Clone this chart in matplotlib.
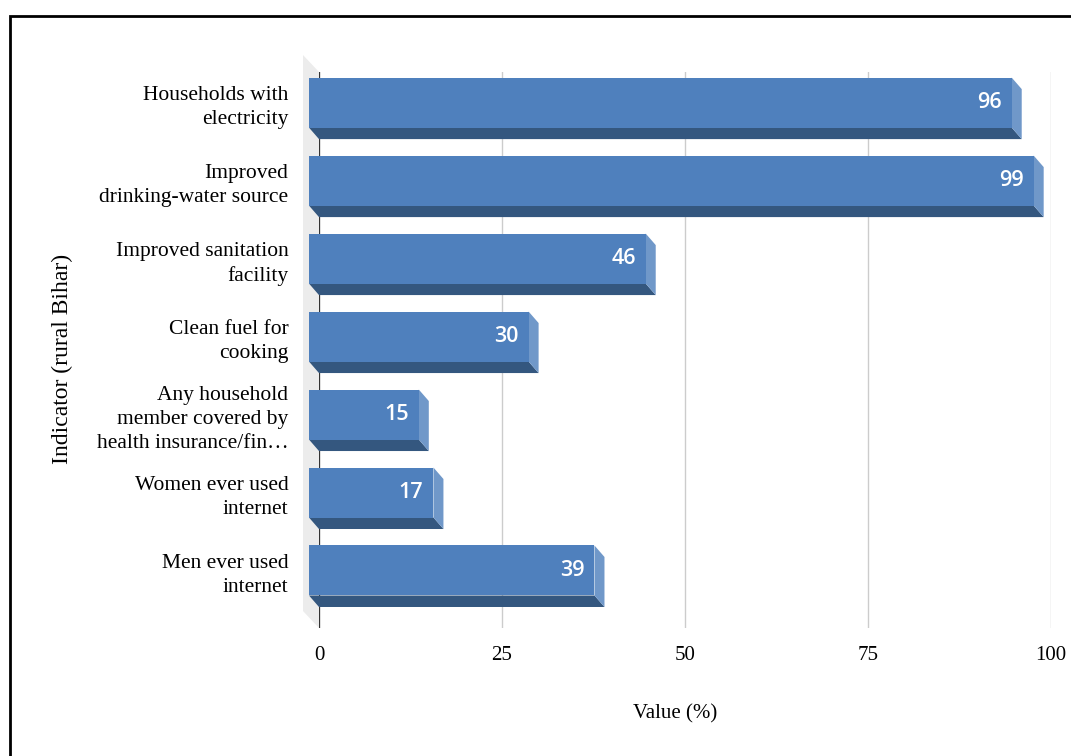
"""Rural Bihar household indicators - 3D style horizontal bars"""

import matplotlib
matplotlib.use('Agg')
from matplotlib import pyplot as plt
from matplotlib.patches import Polygon, Rectangle

# Data
categories = [
    'Households with\nelectricity',
    'Improved\ndrinking-water source',
    'Improved sanitation\nfacility',
    'Clean fuel for\ncooking',
    'Any household\nmember covered by\nhealth insurance/fin\u2026',
    'Women ever used\ninternet',
    'Men ever used\ninternet',
]
values = [96, 99, 46, 30, 15, 17, 39]
x_ticks = [0, 25, 50, 75, 100]

front_color = '#4f80bd'
bottom_color = '#34577f'
side_color = '#7098c9'
serif = 'Liberation Serif'

fig = plt.figure(figsize=(10.71, 7.56), dpi=100)
W, H = 1071, 756
ax = fig.add_axes([319 / W, 1 - 628 / H, 732 / W, 556 / H])
ax.set_xlim(0, 100)
ax.set_ylim(6.59, -0.54)

# pixel offsets of the fake depth, converted to data units
px_x = (ax.transData.transform((1, 0))[0] - ax.transData.transform((0, 0))[0])
px_y = abs(ax.transData.transform((0, 1))[1] - ax.transData.transform((0, 0))[1])
ox, oy = 10 / px_x, 11.5 / px_y     # bars
wx, wy = 16 / px_x, 17 / px_y       # back wall
h = 50 / px_y

# back wall on the left
y0, y1 = -0.54, 6.59
ax.add_patch(Polygon([(-wx, y0 - wy), (0, y0), (0, y1), (-wx, y1 - wy)],
                     closed=True, fc='#ececec', ec='none', zorder=0, clip_on=False))

ax.grid(axis='x', color='#cccccc', lw=1)
ax.axvline(0, color='#333333', lw=1.6, zorder=1.8)

for i, v in enumerate(values):
    top, bot = i - h / 2, i + h / 2
    # bottom face
    ax.add_patch(Polygon([(-ox, bot - oy), (v - ox, bot - oy), (v, bot), (0, bot)],
                         closed=True, fc=bottom_color, ec='none', zorder=2, clip_on=False))
    # right side face
    ax.add_patch(Polygon([(v - ox, top - oy), (v, top), (v, bot), (v - ox, bot - oy)],
                         closed=True, fc=side_color, ec='none', zorder=2, clip_on=False))
    # front face
    ax.add_patch(Rectangle((-ox, top - oy), v, h, fc=front_color, ec='none',
                           zorder=3, clip_on=False))
    ax.text(v - ox - 10 / px_x, i - oy, str(v), color='white', ha='right', va='center',
            fontsize=15.5, family='Open Sans', fontweight='semibold', zorder=4)

for s in ax.spines.values():
    s.set_visible(False)

ax.set_yticks([i - oy for i in range(len(categories))])
ax.set_yticklabels(categories, family=serif, fontsize=15.5, linespacing=1.35)
ax.set_xticks(x_ticks)
ax.set_xticklabels([str(t) for t in x_ticks], family=serif, fontsize=15)
ax.tick_params(axis='y', length=0, pad=22)
ax.tick_params(axis='x', length=0, pad=13)

ax.set_xlabel('Value (%)', family=serif, fontsize=15)
ax.xaxis.set_label_coords(0.486, -0.137)
ax.set_ylabel('Indicator (rural Bihar)', family=serif, fontsize=17)
ax.yaxis.label.set_va('center')
ax.yaxis.set_label_coords(-0.350, 0.484)

# outer frame (cut by the picture edge on the right and bottom)
fig.add_artist(Rectangle((10 / W, -0.2), 2, 1 - 16 / H + 0.2, transform=fig.transFigure,
                         fill=False, ec='black', lw=2))

fig.savefig('out.png', dpi=100)
